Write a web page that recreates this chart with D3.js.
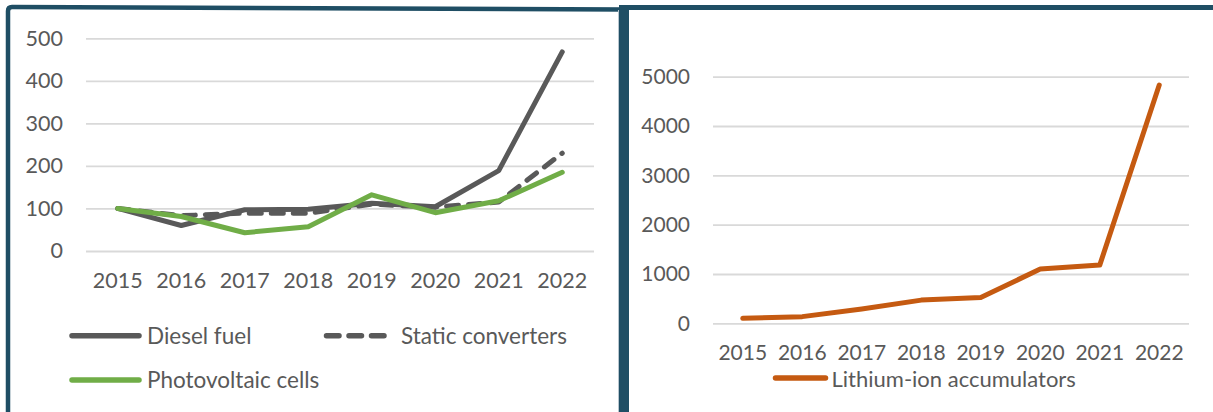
<!DOCTYPE html>
<html>
<head>
<meta charset="utf-8">
<script src="https://cdn.jsdelivr.net/npm/d3@7"></script>
<style>
  html, body { margin: 0; padding: 0; background: #ffffff; }
  svg { display: block; }
  text { font-family: Lato, "Open Sans", sans-serif; fill: #595959; }
</style>
</head>
<body>
<svg id="chart" width="1213" height="412"></svg>
<script>
// Index values by year (2015 = 100) for three goods, plus lithium-ion accumulators
const years = ["2015", "2016", "2017", "2018", "2019", "2020", "2021", "2022"];
const dieselFuel = [100, 60, 97, 98, 112, 104, 189, 468];
const staticConverters = [100, 83, 89, 89, 110, 103, 115, 230];
const photovoltaicCells = [100, 81, 43, 57, 132, 90, 118, 185];
const lithiumIon = [100, 135, 290, 470, 525, 1100, 1180, 4830];
const leftTicks = [0, 100, 200, 300, 400, 500];
const rightTicks = [0, 1000, 2000, 3000, 4000, 5000];

const svg = d3.select("#chart");
const frameColor = "#1f4e64";
const textColor = "#595959";
const gridColor = "#d9d9d9";

// Panel frames
svg.append("path")
  .attr("d", "M8,412 L8,11 Q8,7 12,7 L623,9.5")
  .attr("fill", "none").attr("stroke", frameColor).attr("stroke-width", 4.5);
svg.append("line")
  .attr("x1", 618.5).attr("x2", 618.5).attr("y1", 10).attr("y2", 412)
  .attr("stroke", "#b8c6cf").attr("stroke-width", 1);
svg.append("line")
  .attr("x1", 624).attr("x2", 624).attr("y1", 5).attr("y2", 412)
  .attr("stroke", frameColor).attr("stroke-width", 10);
svg.append("line")
  .attr("x1", 619).attr("x2", 1213).attr("y1", 7.5).attr("y2", 7.5)
  .attr("stroke", frameColor).attr("stroke-width", 5);

function drawPanel(cfg) {
  const g = svg.append("g");
  const x = d3.scaleBand().domain(years).range([cfg.x0, cfg.x1]);
  const y = d3.scaleLinear().domain([0, cfg.yMax]).range([cfg.y0, cfg.y1]);
  const cx = d => x(d) + x.bandwidth() / 2;

  // Horizontal gridlines with value labels
  const yAxis = g.append("g")
    .attr("transform", `translate(${cfg.x0},0)`)
    .call(d3.axisLeft(y).tickValues(cfg.ticks)
      .tickSize(-(cfg.x1 - cfg.x0)).tickPadding(23).tickFormat(d3.format("d")));
  yAxis.select(".domain").remove();
  yAxis.selectAll(".tick line").attr("stroke", gridColor).attr("stroke-width", 1.8);
  yAxis.selectAll(".tick text").attr("font-size", cfg.tickFont).style("fill", textColor)
    .attr("font-family", "Lato, 'Open Sans', sans-serif");

  // Year labels
  const xAxis = g.append("g")
    .attr("transform", `translate(0,${cfg.y0})`)
    .call(d3.axisBottom(x).tickSize(0).tickPadding(cfg.xPad));
  xAxis.select(".domain").remove();
  xAxis.selectAll(".tick text").attr("font-size", cfg.tickFont).style("fill", textColor)
    .attr("font-family", "Lato, 'Open Sans', sans-serif");

  const line = d3.line().x((d, i) => cx(years[i])).y(d => y(d));
  cfg.series.forEach(s => {
    g.append("path")
      .datum(s.values)
      .attr("d", line)
      .attr("fill", "none")
      .attr("stroke", s.color)
      .attr("stroke-width", 5)
      .attr("stroke-linejoin", "round")
      .attr("stroke-linecap", "round")
      .attr("stroke-dasharray", s.dash || null);
  });

  // Legend
  cfg.series.forEach(s => {
    const lg = g.append("g").attr("transform", `translate(${s.lx},${s.ly})`);
    lg.append("line")
      .attr("x1", 0).attr("x2", s.lw).attr("y1", 0).attr("y2", 0)
      .attr("stroke", s.color).attr("stroke-width", 5.5)
      .attr("stroke-linecap", "round")
      .attr("stroke-dasharray", s.legendDash || null);
    lg.append("text")
      .attr("x", s.lw + s.gap).attr("y", s.ty || 0).attr("dy", "0.36em")
      .attr("font-size", cfg.legendFont)
      .text(s.name);
  });
}

drawPanel({
  x0: 86, x1: 594, y0: 251, y1: 38.3, yMax: 500, ticks: leftTicks, xPad: 22,
  tickFont: 21.5, legendFont: 22.5,
  series: [
    { name: "Diesel fuel", values: dieselFuel, color: "#595959",
      lx: 72, ly: 335.7, lw: 67, gap: 8 },
    { name: "Static converters", values: staticConverters, color: "#595959",
      dash: "12,10", legendDash: "12.5,10",
      lx: 326.5, ly: 335.7, lw: 59.5, gap: 15 },
    { name: "Photovoltaic cells", values: photovoltaicCells, color: "#70ad47",
      lx: 72, ly: 380, lw: 67, gap: 8 }
  ]
});

drawPanel({
  x0: 713, x1: 1189, y0: 323.3, y1: 76.7, yMax: 5000, ticks: rightTicks, xPad: 22,
  tickFont: 21, legendFont: 22,
  series: [
    { name: "Lithium-ion accumulators", values: lithiumIon, color: "#c55a11",
      lx: 775.5, ly: 378, ty: 1.3, lw: 50, gap: 6 }
  ]
});
</script>
</body>
</html>
